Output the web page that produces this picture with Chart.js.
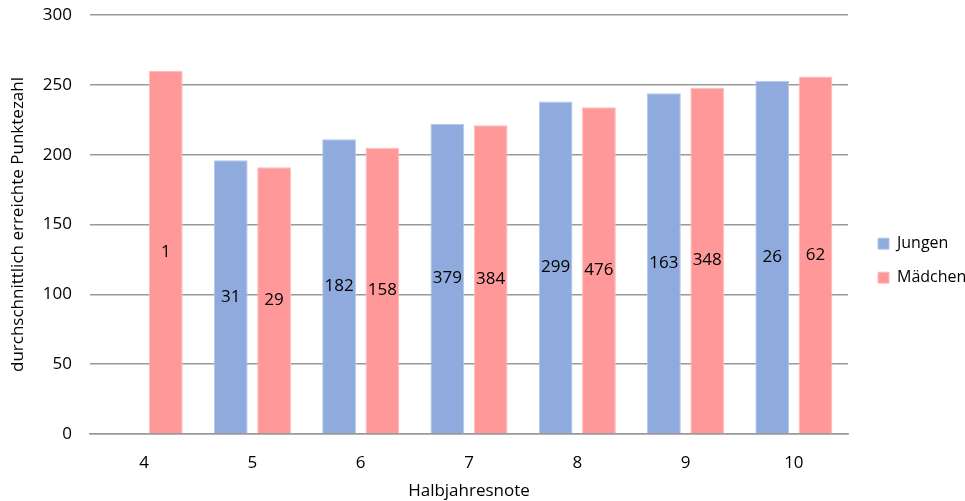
<!DOCTYPE html>
<html>
<head>
<meta charset="utf-8">
<script src="https://cdn.jsdelivr.net/npm/chart.js@4"></script>
<style>
  html, body { margin: 0; padding: 0; background: #fff; }
  #wrap { width: 965px; height: 501px; }
</style>
</head>
<body>
<div id="wrap"><canvas id="chart" width="965" height="501"></canvas></div>
<script>
const categories = ['4', '5', '6', '7', '8', '9', '10'];
const jungen = [null, 196, 211, 222, 238, 244, 253];
const maedchen = [260, 191, 205, 221, 234, 248, 256];
const jungenCount = [null, 31, 182, 379, 299, 163, 26];
const maedchenCount = [1, 29, 158, 384, 476, 348, 62];
const yTicks = [0, 50, 100, 150, 200, 250, 300];

const FONT = "'Open Sans', 'Liberation Sans', sans-serif";
const SIZE = 17;

// writes the group size into the middle of each bar
const countLabels = {
  id: 'countLabels',
  afterDatasetsDraw(chart) {
    const ctx = chart.ctx;
    ctx.save();
    ctx.font = SIZE + 'px ' + FONT;
    ctx.fillStyle = '#000';
    ctx.textAlign = 'center';
    ctx.textBaseline = 'middle';
    chart.data.datasets.forEach((ds, i) => {
      const meta = chart.getDatasetMeta(i);
      meta.data.forEach((bar, j) => {
        const n = ds.counts[j];
        if (n == null) return;
        ctx.fillText(String(n), bar.x, (bar.y + bar.base) / 2);
      });
    });
    ctx.restore();
  }
};

// fixed legend column width so the plot ends where the original does,
// then nudge the legend a bit to the right
const legendWidth = {
  id: 'legendWidth',
  afterInit(chart) {
    const lg = chart.legend;
    if (!lg) return;
    const fit = lg.fit.bind(lg);
    lg.fit = function () { fit(); this.width = 117; };
  },
  afterLayout(chart) {
    if (chart.legend) chart.legend.left += 12;
  }
};

new Chart(document.getElementById('chart'), {
  type: 'bar',
  data: {
    labels: categories,
    datasets: [
      { label: 'Jungen', data: jungen, counts: jungenCount, backgroundColor: '#8faadc',
        borderColor: '#b4c7e7', borderWidth: 1, categoryPercentage: 0.8, barPercentage: 0.78 },
      { label: 'Mädchen', data: maedchen, counts: maedchenCount, backgroundColor: '#ff9999',
        borderColor: '#ffbcbc', borderWidth: 1, categoryPercentage: 0.8, barPercentage: 0.78 }
    ]
  },
  options: {
    responsive: false,
    animation: false,
    layout: { padding: { top: 15, right: 0, left: 8, bottom: 0 } },
    plugins: {
      legend: {
        position: 'right',
        title: { display: true, text: ' ', font: { size: 4.5 }, padding: 0 },
        labels: {
          font: { family: FONT, size: 16 },
          color: '#000',
          boxWidth: 11,
          boxHeight: 11,
          padding: 18
        }
      },
      tooltip: { enabled: false }
    },
    scales: {
      x: {
        afterFit(scale) { scale.height = 67; },
        grid: { display: false, drawTicks: true, tickLength: 19, tickColor: 'transparent' },
        border: { color: '#999', width: 1.5 },
        ticks: { color: '#000', font: { family: FONT, size: SIZE }, padding: 0 },
        title: { display: true, text: 'Halbjahresnote', color: '#000',
                 font: { family: FONT, size: SIZE }, padding: 0 }
      },
      y: {
        min: 0, max: 300,
        afterFit(scale) { scale.width = 82; },
        afterBuildTicks(scale) { scale.ticks = yTicks.map(v => ({ value: v })); },
        grid: { color: '#999', lineWidth: 1.5, drawTicks: true, tickLength: 18, tickColor: 'transparent' },
        border: { display: false },
        ticks: { color: '#000', font: { family: FONT, size: SIZE }, padding: 0 },
        title: { display: true, text: 'durchschnittlich erreichte Punktezahl', color: '#000',
                 font: { family: FONT, size: SIZE }, padding: 0 }
      }
    }
  },
  plugins: [countLabels, legendWidth]
});
</script>
</body>
</html>
